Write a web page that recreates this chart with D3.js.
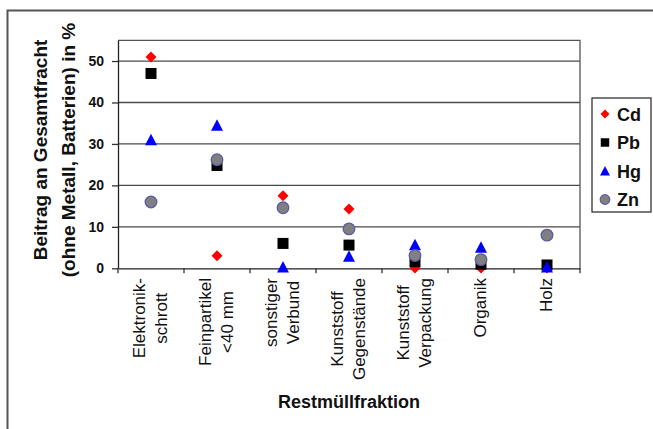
<!DOCTYPE html>
<html><head><meta charset="utf-8">
<script src="https://cdn.jsdelivr.net/npm/d3@7"></script>
<style>
html,body{margin:0;padding:0;background:#fff;}
svg{display:block;font-family:"Liberation Sans",Arial,sans-serif;}
</style></head>
<body>
<svg id="chart" width="653" height="429"></svg>
<script>
const categories = [
  ["Elektronik-","schrott"],
  ["Feinpartikel","<40 mm"],
  ["sonstiger","Verbund"],
  ["Kunststoff","Gegenstände"],
  ["Kunststoff","Verpackung"],
  ["Organik"],
  ["Holz"]
];
const catKeys = categories.map(c => c.join(" "));
const seriesNames = ["Cd","Pb","Hg","Zn"];
const cdValues = [51, 3, 17.5, 14.3, 0.1, 0.1, 0.1];
const pbValues = [47, 24.8, 6, 5.6, 1.6, 1.0, 0.8];
const hgValues = [31, 34.5, 0.3, 2.9, 5.7, 5.1, 0.3];
const znValues = [16, 26.2, 14.6, 9.5, 3.1, 2.1, 8.0];
const yTicks = [0, 10, 20, 30, 40, 50];
const yMax = 55;
const yTitle = ["Beitrag an Gesamtfracht", "(ohne Metall, Batterien) in %"];
const xTitle = "Restmüllfraktion";

const seriesValues = [cdValues, pbValues, hgValues, znValues];

const svg = d3.select("#chart");
const L = 118, R = 580, T = 40.3, B = 268.3;

// outer frame
svg.append("rect").attr("x", 7.5).attr("y", 10.5).attr("width", 700).attr("height", 500)
  .attr("fill", "none").attr("stroke", "#555").attr("stroke-width", 2);

const x = d3.scaleBand().domain(catKeys).range([L, R]).padding(0);
const y = d3.scaleLinear().domain([0, yMax]).range([B, T]);

// gridlines
svg.append("g").selectAll("line").data(yTicks.filter(d => d > 0)).join("line")
  .attr("x1", L).attr("x2", R).attr("y1", d => y(d)).attr("y2", d => y(d))
  .attr("stroke", "#4a4a4a").attr("stroke-width", 1.3);

// plot border top/right
svg.append("path").attr("d", `M${L},${y(yMax)}H${R}V${B}`).attr("fill", "none")
  .attr("stroke", "#555").attr("stroke-width", 1.3);

// y axis
const ya = svg.append("g").attr("transform", `translate(${L},0)`)
  .call(d3.axisLeft(y).tickValues(yTicks).tickSize(6).tickSizeOuter(0).tickPadding(8));
ya.select(".domain").attr("stroke", "#222").attr("stroke-width", 1.3);
ya.selectAll(".tick line").attr("stroke", "#333").attr("stroke-width", 1.3);
ya.selectAll(".tick text").attr("font-family", "Liberation Sans, Arial, sans-serif")
  .attr("font-size", 14).attr("font-weight", "bold").attr("fill", "#111");

// x axis
const xa = svg.append("g").attr("transform", `translate(0,${B})`)
  .call(d3.axisBottom(x).tickValues([]).tickSizeOuter(0));
xa.select(".domain").attr("stroke", "#222").attr("stroke-width", 1.3);
const bounds = [...catKeys.map(k => x(k)), R];
xa.selectAll("line.sep").data(bounds).join("line").attr("class", "sep")
  .attr("x1", d => d).attr("x2", d => d).attr("y1", 0).attr("y2", 5)
  .attr("stroke", "#333").attr("stroke-width", 1.3);

// category labels
const catG = svg.append("g");
categories.forEach((lines, i) => {
  const cx = x(catKeys[i]) + x.bandwidth() / 2;
  const g = catG.append("g");
  const texts = lines.map((ln, j) => g.append("text").text(ln)
    .attr("font-size", 17).attr("fill", "#111").attr("text-anchor", "middle"));
  const maxLen = d3.max(texts, t => t.node().getComputedTextLength());
  const cy = 278 + maxLen / 2;
  const n = lines.length;
  texts.forEach((t, j) => {
    const bx = cx + 5 + (j - (n - 1) / 2) * 22;
    t.attr("transform", `translate(${bx},${cy}) rotate(-90)`);
  });
});

// axis titles
svg.append("text").attr("x", 349).attr("y", 408).attr("text-anchor", "middle")
  .attr("font-size", 18).attr("font-weight", "bold").attr("fill", "#111").text(xTitle);
yTitle.forEach((t, j) => {
  svg.append("text").attr("transform", `translate(${47 + j * 28},${150}) rotate(-90)`)
    .attr("text-anchor", "middle").attr("font-size", 19).attr("font-weight", "bold")
    .attr("fill", "#111").text(t);
});

// markers
const shapes = {
  Cd: g => g.append("path").attr("d", "M0,-5.5L5.5,0L0,5.5L-5.5,0Z").attr("fill", "#ff0000"),
  Pb: g => g.append("path").attr("d", d3.symbol(d3.symbolSquare, 121)()).attr("fill", "#000"),
  Hg: g => g.append("path").attr("d", "M0,-6L6,5.5L-6,5.5Z").attr("fill", "#0000ff"),
  Zn: g => g.append("circle").attr("r", 5.8).attr("fill", "#808080").attr("stroke", "#5a5aa8").attr("stroke-width", 1.3)
};
const legendShapes = {
  Cd: g => g.append("path").attr("d", "M0,-4.5L4.5,0L0,4.5L-4.5,0Z").attr("fill", "#ff0000"),
  Pb: g => g.append("path").attr("d", d3.symbol(d3.symbolSquare, 72)()).attr("fill", "#000"),
  Hg: g => g.append("path").attr("d", "M0,-5L5,4.5L-5,4.5Z").attr("fill", "#0000ff"),
  Zn: g => g.append("circle").attr("r", 4.8).attr("fill", "#808080").attr("stroke", "#5a5aa8").attr("stroke-width", 1.2)
};
seriesNames.forEach((s, si) => {
  const g = svg.append("g");
  seriesValues[si].forEach((v, i) => {
    const m = g.append("g").attr("transform", `translate(${x(catKeys[i]) + x.bandwidth() / 2},${y(v)})`);
    shapes[s](m);
  });
});

// legend
const lg = svg.append("g");
lg.append("rect").attr("x", 592).attr("y", 98).attr("width", 59).attr("height", 114)
  .attr("fill", "#fff").attr("stroke", "#333").attr("stroke-width", 1.3);
seriesNames.forEach((s, i) => {
  const cy = 114 + i * 28.5;
  const m = lg.append("g").attr("transform", `translate(605,${cy})`);
  legendShapes[s](m);
  lg.append("text").attr("x", 617).attr("y", cy + 6.5).attr("font-size", 18)
    .attr("font-weight", "bold").attr("fill", "#111").text(s);
});
</script>
</body></html>
